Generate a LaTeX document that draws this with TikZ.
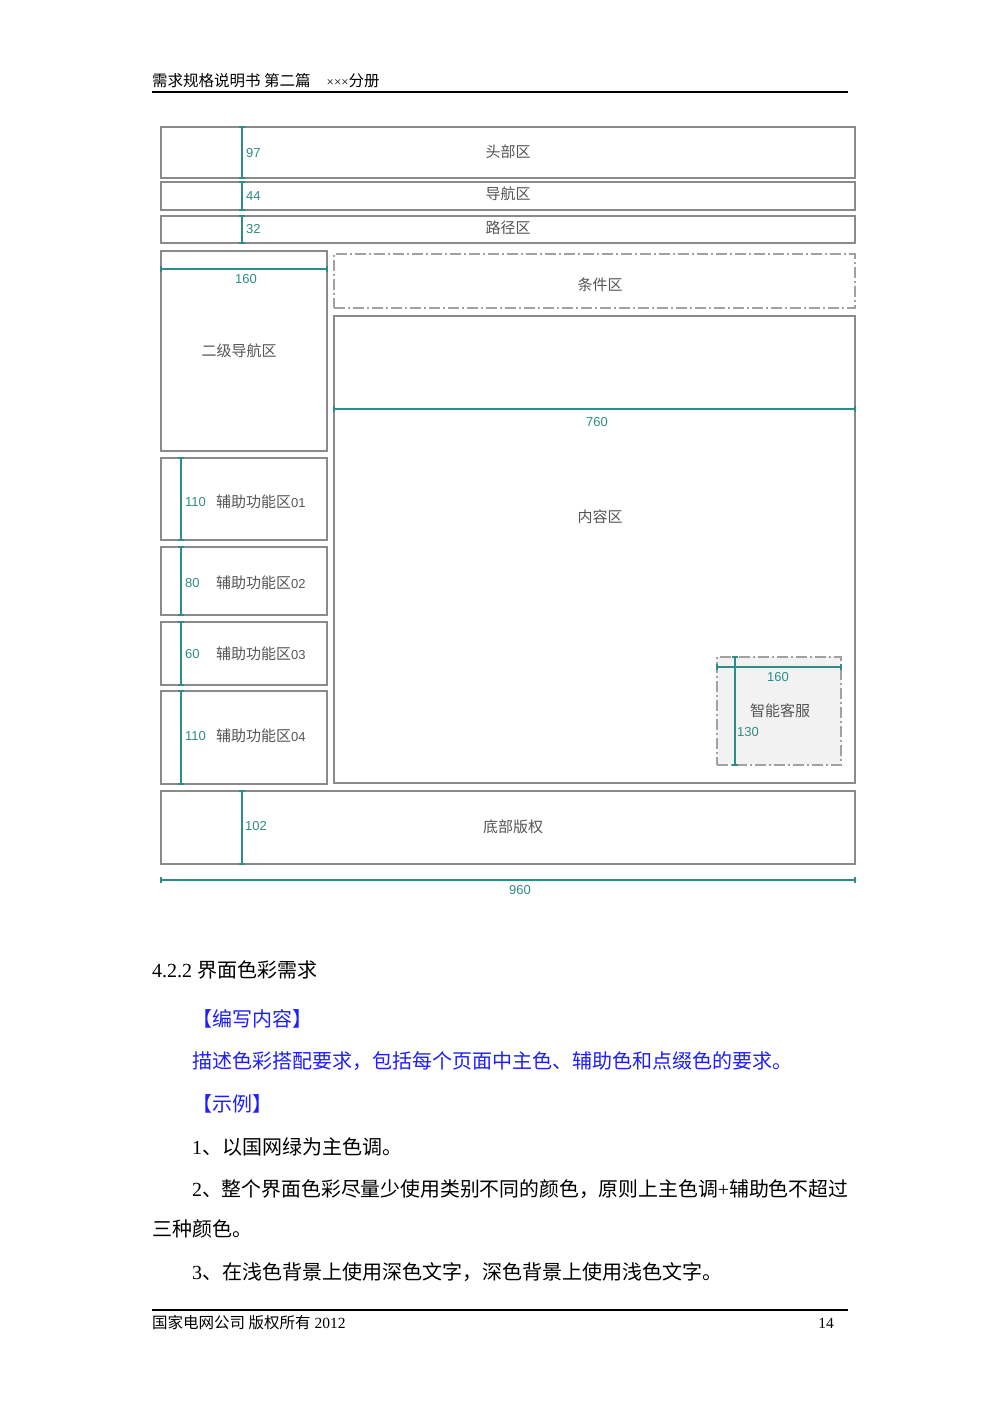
\documentclass[tikz,border=0pt]{standalone}
\usepackage{fontspec}
\setmainfont{Liberation Serif}
\newfontfamily\cjk{Noto Sans CJK SC}
\newfontfamily\lsans{Liberation Sans}
\usetikzlibrary{arrows.meta}
\definecolor{boxgray}{HTML}{8A8A8A}
\definecolor{dimteal}{HTML}{2F8C86}
\definecolor{labgray}{HTML}{555555}
\definecolor{bluetxt}{HTML}{1E1EFF}
\definecolor{fillgray}{HTML}{F2F2F2}
\tikzset{
  box/.style={draw=boxgray, line width=1.6pt, inner sep=0pt},
  dbox/.style={draw=boxgray!80, line width=1.3pt, inner sep=0pt, dash pattern=on 11pt off 3pt on 2pt off 3pt},
  lab/.style={text=labgray, font=\cjk\fontsize{15}{15}\selectfont, inner sep=0pt},
  num/.style={text=dimteal, font=\lsans\fontsize{13}{13}\selectfont, inner sep=0pt},
  dim/.style={draw=dimteal, line width=1.3pt, {Bar[width=6pt,line width=2pt]}-{Bar[width=6pt,line width=2pt]}},
  body/.style={font=\fontsize{20}{20}\selectfont, inner sep=0pt, anchor=west},
  small/.style={font=\fontsize{15.5}{15.5}\selectfont, inner sep=0pt, anchor=west}
}
\begin{document}
\begin{tikzpicture}[x=1pt,y=-1pt]
\useasboundingbox[fill=white] (0,0) rectangle (1000,1415);
% page header
\node[small] (ptitle) at (152,81) {{\cjk 需求规格说明书 第二篇}\hspace{16pt}{\fontsize{13}{13}\selectfont ×××}{\cjk 分册}};
\coordinate (hl1) at (152,92);
\coordinate (hl2) at (848,92);
\draw[line width=1.3pt] (hl1) -- (hl2);
% boxes
\node[box, minimum width=694pt, minimum height=51pt] (head) at (508,152.5) {};
\node[box, minimum width=694pt, minimum height=28pt] (nav) at (508,196) {};
\node[box, minimum width=694pt, minimum height=27pt] (path) at (508,229.5) {};
\node[box, minimum width=166pt, minimum height=200pt] (snav) at (244,351) {};
\node[dbox, minimum width=521pt, minimum height=54pt] (cond) at (594.5,281) {};
\node[box, minimum width=521pt, minimum height=467pt] (cont) at (594.5,549.5) {};
\node[box, minimum width=166pt, minimum height=82pt] (aux1) at (244,499) {};
\node[box, minimum width=166pt, minimum height=68pt] (aux2) at (244,581) {};
\node[box, minimum width=166pt, minimum height=63pt] (aux3) at (244,653.5) {};
\node[box, minimum width=166pt, minimum height=93pt] (aux4) at (244,737.5) {};
\node[dbox, fill=fillgray, minimum width=124pt, minimum height=108pt] (smart) at (779,711) {};
\node[box, minimum width=694pt, minimum height=73pt] (foot) at (508,827.5) {};
% labels
\node[lab] (lhead) at (508,152) {头部区};
\node[lab] (lnav) at (508,194) {导航区};
\node[lab] (lpath) at (508,228) {路径区};
\node[lab] (lsnav) at (239,351) {二级导航区};
\node[lab] (lcond) at (600,285) {条件区};
\node[lab] (lcont) at (600,517) {内容区};
\node[lab, anchor=west] (laux1) at (216,502) {辅助功能区{\lsans\fontsize{13}{13}\selectfont 01}};
\node[lab, anchor=west] (laux2) at (216,583) {辅助功能区{\lsans\fontsize{13}{13}\selectfont 02}};
\node[lab, anchor=west] (laux3) at (216,654) {辅助功能区{\lsans\fontsize{13}{13}\selectfont 03}};
\node[lab, anchor=west] (laux4) at (216,736) {辅助功能区{\lsans\fontsize{13}{13}\selectfont 04}};
\node[lab] (lsmart) at (780,711) {智能客服};
\node[lab] (lfoot) at (513,827) {底部版权};
% dimension lines
\draw[dim] (242,0 |- head.north) -- (242,0 |- head.south);
\node[num, anchor=west] (n97) at (246,153) {97};
\draw[dim] (242,0 |- nav.north) -- (242,0 |- nav.south);
\node[num, anchor=west] (n44) at (246,196) {44};
\draw[dim] (242,0 |- path.north) -- (242,0 |- path.south);
\node[num, anchor=west] (n32) at (246,229) {32};
\draw[dim] (snav.west |- 0,269) -- (snav.east |- 0,269);
\node[num] (n160a) at (246,279) {160};
\draw[dim] (cont.west |- 0,409) -- (cont.east |- 0,409);
\node[num] (n760) at (597,422) {760};
\draw[dim] (181,0 |- aux1.north) -- (181,0 |- aux1.south);
\node[num, anchor=west] (n110a) at (185,502) {110};
\draw[dim] (181,0 |- aux2.north) -- (181,0 |- aux2.south);
\node[num, anchor=west] (n80) at (185,583) {80};
\draw[dim] (181,0 |- aux3.north) -- (181,0 |- aux3.south);
\node[num, anchor=west] (n60) at (185,654) {60};
\draw[dim] (181,0 |- aux4.north) -- (181,0 |- aux4.south);
\node[num, anchor=west] (n110b) at (185,736) {110};
\draw[dim] (smart.west |- 0,667) -- (smart.east |- 0,667);
\node[num] (n160b) at (778,677) {160};
\draw[dim] (735,0 |- smart.north) -- (735,0 |- smart.south);
\node[num, anchor=west] (n130) at (737,732) {130};
\draw[dim] (242,0 |- foot.north) -- (242,0 |- foot.south);
\node[num, anchor=west] (n102) at (245,826) {102};
\draw[dim] (foot.west |- 0,880) -- (foot.east |- 0,880);
\node[num] (n960) at (520,890) {960};
% text below
\node[body] (h422) at (152,970) {4.2.2 {\cjk 界面色彩需求}};
\node[body, text=bluetxt] (t1) at (192,1019) {\cjk 【编写内容】};
\node[body, text=bluetxt] (t2) at (192,1061) {\cjk 描述色彩搭配要求，包括每个页面中主色、辅助色和点缀色的要求。};
\node[body, text=bluetxt] (t3) at (192,1104) {\cjk 【示例】};
\node[body] (t4) at (192,1147) {1{\cjk 、以国网绿为主色调。}};
\node[body] (t5) at (192,1189) {\resizebox{656pt}{\height}{2{\cjk 、整个界面色彩尽量少使用类别不同的颜色，原则上主色调}+{\cjk 辅助色不超过}}};
\node[body] (t6) at (152,1229) {\cjk 三种颜色。};
\node[body] (t7) at (192,1272) {3{\cjk 、在浅色背景上使用深色文字，深色背景上使用浅色文字。}};
% page footer
\coordinate (fl1) at (152,1310);
\coordinate (fl2) at (848,1310);
\draw[line width=1.3pt] (fl1) -- (fl2);
\node[small] (pfoot) at (152,1323) {{\cjk 国家电网公司 版权所有} 2012};
\node[small, anchor=east] (pnum) at (834,1323) {14};
\end{tikzpicture}
\end{document}
